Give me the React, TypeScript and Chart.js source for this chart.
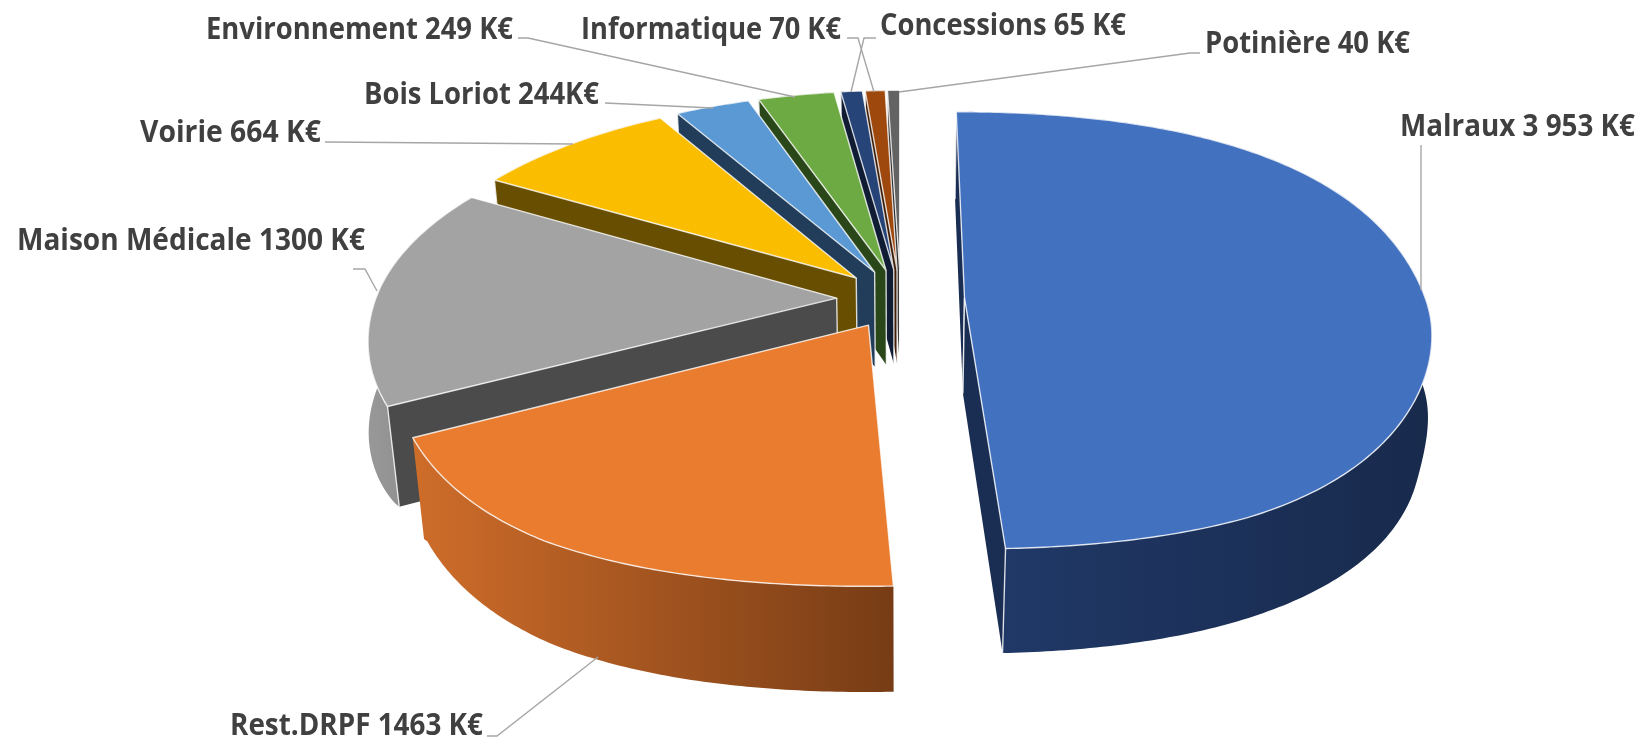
import React, { useEffect, useRef } from "react";
import { Chart, registerables } from "chart.js";

Chart.register(...registerables);

// ---- data -------------------------------------------------------------
const categories = ["Malraux", "Rest.DRPF", "Maison Médicale", "Voirie", "Bois Loriot", "Environnement", "Informatique", "Concessions", "Potinière"];
const values = [3953, 1463, 1300, 664, 244, 249, 70, 65, 40];
const labelTexts = ["Malraux 3 953 K€", "Rest.DRPF 1463 K€", "Maison Médicale 1300 K€", "Voirie 664 K€", "Bois Loriot 244K€", "Environnement 249 K€", "Informatique 70 K€", "Concessions 65 K€", "Potinière 40 K€"];
const topColors = ["#4271C0", "#E97C2F", "#A3A3A3", "#FBBD00", "#5A99D4", "#6EAA44", "#264478", "#9E480E", "#636363"];
const wallLeft = ["#213A6A", "#CF6D2A", "#989898", "#6A5000", "#24425F", "#2E4D1D", "#101E38", "#42200A", "#2C2C2C"];
const wallRight = ["#182A4C", "#773C15", "#808080", "#6A5000", "#24425F", "#2E4D1D", "#101E38", "#42200A", "#2C2C2C"];
const faceColors = ["#1A2D52", "#7A3F16", "#4B4B4B", "#674E00", "#213D59", "#2A471A", "#0F1C33", "#3F1D06", "#282828"];

// ---- annotation layout (text x-left, baseline, target width, leader polyline) ----
const labelLayout: { x: number; y: number; w: number; leader: number[][] }[] = [
  { x: 1400, y: 136, w: 235, leader: [[1421, 145], [1421, 290]] },
  { x: 230, y: 735, w: 253, leader: [[487, 736], [497, 736], [598, 657]] },
  { x: 17, y: 250, w: 348, leader: [[353, 269], [365, 269], [377, 291]] },
  { x: 140, y: 142, w: 181, leader: [[325, 142], [573, 144]] },
  { x: 364, y: 104, w: 235, leader: [[605, 103], [713, 108]] },
  { x: 206, y: 39, w: 307, leader: [[518, 38], [528, 38], [795, 97]] },
  { x: 581, y: 39, w: 260, leader: [[847, 38], [858, 38], [874, 92]] },
  { x: 880, y: 35, w: 246, leader: [[876, 38], [864, 38], [851, 92]] },
  { x: 1205, y: 53, w: 205, leader: [[1200, 53], [1190, 53], [899, 92]] },
];

// ---- perspective of the tilted disc ------------------------------------
const view = { cx: 900.6, cy: 298.8, A: 461, B: 214, D: 98, k: 0.148, m: 0.025, bulge: 0.04, wallBulge: 0.03 };

function project(u: number, v: number, h: number): [number, number] {
  const w = 1 - view.k * v + view.m * h;
  return [view.cx + (view.A * u) / w, view.cy + (view.B * v + view.D * h) / w];
}

const clamp01 = (t: number) => Math.max(0, Math.min(1, t));
const deg = Math.PI / 180;

// the rim of the reference's disc is slightly fuller than an ellipse on its right and front sides
function rimRadius(angle: number, h: number) {
  const clock = (((angle + Math.PI / 2) % (2 * Math.PI)) + 2 * Math.PI) % (2 * Math.PI);
  const d = clock / deg;
  let r = 1;
  if (d < 270) {
    let f = 1;
    if (h === 0 && d > 90 && d < 180) f = clamp01((d - 100) / 50);
    if (d > 215) f = 1 - 0.5 * clamp01((d - 215) / 27);
    r += view.bulge * Math.sin(2 * clock) ** 2 * f;
  }
  if (h === 1 && d > 242 && d < 300) r += view.wallBulge * Math.sqrt(Math.sin(((d - 242) / 58) * Math.PI));
  if (h === 1 && d > 60 && d < 112) r += view.wallBulge * Math.sin(((d - 60) / 52) * Math.PI) ** 2;
  return r;
}

function path(ctx: CanvasRenderingContext2D, pts: [number, number][], close = true) {
  ctx.beginPath();
  pts.forEach((p, i) => (i ? ctx.lineTo(p[0], p[1]) : ctx.moveTo(p[0], p[1])));
  if (close) ctx.closePath();
}

function shoelace(p: [number, number][]) {
  let s = 0;
  for (let i = 0; i < p.length; i++) {
    const q = p[(i + 1) % p.length];
    s += p[i][0] * q[1] - q[0] * p[i][1];
  }
  return s;
}

const EDGE = "rgba(255,255,255,0.8)";

const pie3d = {
  id: "pie3d",
  beforeDatasetsDraw(chart: any) {
    const ctx: CanvasRenderingContext2D = chart.ctx;
    const arcs: any[] = chart.getDatasetMeta(0).data;

    const slices = arcs.map((el, i) => {
      const R = el.outerRadius;
      const e = (el.options.offset || 0) / R;
      const mid = (el.startAngle + el.endAngle) / 2;
      const ax = Math.cos(mid) * e;
      const ay = Math.sin(mid) * e;
      const steps = Math.max(4, Math.ceil((el.endAngle - el.startAngle) / 0.012));
      const angles: number[] = [];
      for (let s = 0; s <= steps; s++) angles.push(el.startAngle + ((el.endAngle - el.startAngle) * s) / steps);
      const rimAt = (h: number) =>
        angles.map((a) => {
          const r = rimRadius(a, h);
          return project(ax + r * Math.cos(a), ay + r * Math.sin(a), h);
        });
      return { i, mid, ax, ay, top: rimAt(0), bot: rimAt(1) };
    });

    // back to front
    slices.sort((a, b) => Math.sin(a.mid) - Math.sin(b.mid));

    ctx.save();
    ctx.lineJoin = "round";
    for (const s of slices) {
      const { top, bot } = s;
      const A0 = project(s.ax, s.ay, 0);
      const A1 = project(s.ax, s.ay, 1);

      // outer wall
      const xs = top.concat(bot).map((p) => p[0]);
      const g = ctx.createLinearGradient(Math.min(...xs), 0, Math.max(...xs), 0);
      g.addColorStop(0, wallLeft[s.i]);
      g.addColorStop(1, wallRight[s.i]);
      ctx.fillStyle = g;
      path(ctx, top.concat(bot.slice().reverse()));
      ctx.fill();

      // radial cut faces, only when they face the viewer
      const startFace: [number, number][] = [A0, top[0], bot[0], A1];
      const endFace: [number, number][] = [A0, top[top.length - 1], bot[bot.length - 1], A1];
      ctx.fillStyle = faceColors[s.i];
      ctx.strokeStyle = EDGE;
      ctx.lineWidth = 1.4;
      if (shoelace(startFace) < 0) {
        path(ctx, startFace);
        ctx.fill();
        path(ctx, [A0, A1], false);
        ctx.stroke();
        path(ctx, [top[0], bot[0]], false);
        ctx.stroke();
      }
      if (shoelace(endFace) > 0) {
        path(ctx, endFace);
        ctx.fill();
        path(ctx, [A0, A1], false);
        ctx.stroke();
        path(ctx, [top[top.length - 1], bot[bot.length - 1]], false);
        ctx.stroke();
      }

      // top surface
      ctx.fillStyle = topColors[s.i];
      path(ctx, [A0, ...top]);
      ctx.fill();
      ctx.stroke();
    }
    ctx.restore();
    return false;
  },
  afterDraw(chart: any) {
    const ctx: CanvasRenderingContext2D = chart.ctx;
    ctx.save();
    ctx.strokeStyle = "#A6A6A6";
    ctx.lineWidth = 1.4;
    labelLayout.forEach((l) => {
      path(ctx, l.leader as [number, number][], false);
      ctx.stroke();
    });
    ctx.fillStyle = "#404040";
    ctx.textBaseline = "alphabetic";
    ctx.textAlign = "left";
    ctx.font = "700 29.5px 'Open Sans'";
    labelTexts.forEach((t, i) => {
      const l = labelLayout[i];
      ctx.save();
      ctx.translate(l.x, l.y);
      ctx.scale(l.w / ctx.measureText(t).width, 1);
      ctx.fillText(t, 0, 0);
      ctx.restore();
    });
    ctx.restore();
  },
};

export default function App() {
  const ref = useRef<HTMLCanvasElement>(null);
  useEffect(() => {
    document.body.style.margin = "0";
    document.body.style.background = "#fff";
    const chart = new Chart(ref.current!, {
      type: "pie",
      data: {
        labels: categories,
        datasets: [{ data: values, backgroundColor: topColors, borderWidth: 0, offset: 48 }],
      },
      options: {
        responsive: false,
        animation: false,
        rotation: 0,
        layout: { padding: 0 },
        plugins: { legend: { display: false }, tooltip: { enabled: false } },
      },
      plugins: [pie3d],
    } as any);
    return () => chart.destroy();
  }, []);
  return <canvas ref={ref} width={1644} height={740} style={{ display: "block" }} />;
}
